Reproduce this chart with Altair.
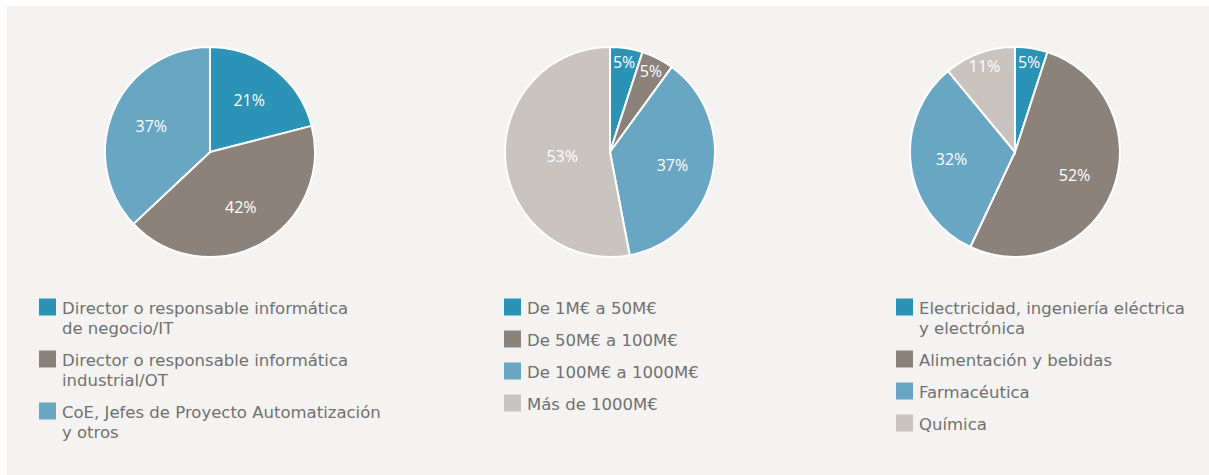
import altair as alt
import pandas as pd

# ---- data ----
cats1 = [
    "Director o responsable informática\nde negocio/IT",
    "Director o responsable informática\nindustrial/OT",
    "CoE, Jefes de Proyecto Automatización\ny otros",
]
vals1 = [21, 42, 37]

cats2 = ["De 1M€ a 50M€", "De 50M€ a 100M€", "De 100M€ a 1000M€", "Más de 1000M€"]
vals2 = [5, 5, 37, 53]

cats3 = [
    "Electricidad, ingeniería eléctrica\ny electrónica",
    "Alimentación y bebidas",
    "Farmacéutica",
    "Química",
]
vals3 = [5, 52, 32, 11]

palette = ["#2a93b6", "#8b827c", "#68a6c4", "#c9c4bf"]

# ---- layout / style ----
W, H = 1209, 475
CY = 152
R = 105
LABEL_FONT = "Open Sans"
LEGEND_FONT = "DejaVu Sans"
LEG_Y = 305
SYMBOL_PATH = "M-1,-1.765H1V0.235H-1Z"


def pie(cats, vals, field, cx, lx):
    df = pd.DataFrame({field: cats, "value": vals, "order": list(range(len(cats)))})
    theta_scale = alt.Scale(domain=[0, 100])
    base = alt.Chart(df).encode(x=alt.value(cx), y=alt.value(CY))
    arcs = base.mark_arc(outerRadius=R, stroke="white", strokeWidth=2).encode(
        theta=alt.Theta("value:Q", stack=True, scale=theta_scale),
        order=alt.Order("order:Q"),
        color=alt.Color(
            f"{field}:N",
            scale=alt.Scale(domain=cats, range=palette[: len(cats)]),
            legend=alt.Legend(
                title=None,
                orient="none",
                legendX=lx,
                legendY=LEG_Y,
                symbolType=SYMBOL_PATH,
                symbolSize=289,
                symbolStrokeWidth=0,
                labelBaseline="alphabetic",
                labelOffset=6,
                labelFont=LEGEND_FONT,
                labelFontSize=16.5,
                labelColor="#707070",
                labelLimit=500,
                rowPadding=13,
                labelExpr="split(datum.label, '\\n')",
            ),
        ),
    )
    labels = (
        base.transform_window(
            cum="sum(value)", sort=[alt.SortField("order")], frame=[None, 0]
        )
        .transform_calculate(
            mid="datum.cum - datum.value / 2",
            pct="datum.value + '%'",
            lr="datum.value < 15 ? 90 : (datum.value >= 53 ? 48 : 64)",
        )
        .mark_text(font=LABEL_FONT, fontSize=16, color="white", align="center", baseline="middle")
        .encode(
            theta=alt.Theta("mid:Q", scale=theta_scale),
            radius=alt.Radius("lr:Q", scale=None),
            text="pct:N",
        )
    )
    return alt.layer(arcs, labels)


bg = alt.Chart(pd.DataFrame({"a": [0]})).mark_rect(color="#f4f3f1").encode(
    x=alt.value(7), x2=alt.value(W), y=alt.value(6), y2=alt.value(H)
)

p1 = pie(cats1, vals1, "perfil", 210, 39)
p2 = pie(cats2, vals2, "facturacion", 610, 504)
p3 = pie(cats3, vals3, "sector", 1015, 896)

chart = (
    alt.layer(bg, p1, p2, p3)
    .resolve_scale(color="independent", theta="independent")
    .properties(width=W, height=H, padding=0, autosize="none", background="white")
    .configure(style={"guide-label": {"lineHeight": 20}})
    .configure_view(stroke="transparent")
)

chart.save("out.html", embed_options={"renderer": "svg", "actions": False})
